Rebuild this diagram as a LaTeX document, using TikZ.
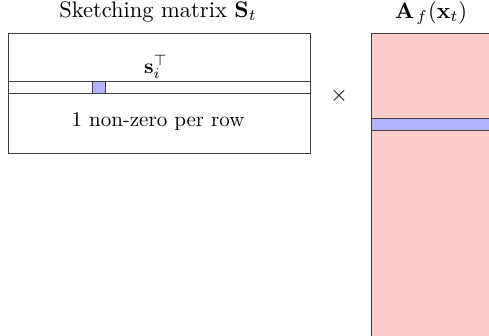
\documentclass[tikz,border=0pt]{standalone}
\usepackage{amsmath}
\begin{document}
\begin{tikzpicture}[x=1pt,y=-1pt,
  box/.style={draw=black!75, line width=1pt, inner sep=0pt, outer sep=0pt, anchor=north west},
  lbl/.style={inner sep=0pt, scale=2.1, font=\normalsize},
  ttl/.style={inner sep=0pt, scale=2.25, font=\normalsize}]
\useasboundingbox (0,0) rectangle (489,335);
\clip (0,0) rectangle (489,335);
% sketching matrix
\node[box, minimum width=302pt, minimum height=120pt] (S) at (8,33) {};
\node[box, minimum width=302pt, minimum height=12pt] (row) at (8,81) {};
\node[box, fill=blue!30, minimum width=13pt, minimum height=12pt] (nz) at (92,81) {};
\node[ttl] (Stitle) at (158,12) {Sketching matrix $\mathbf{S}_t$};
\node[lbl] (si) at (156,67) {$\mathbf{s}_i^{\top}$};
\node[lbl] (nzt) at (158,122) {1 non-zero per row};
% times
\node[ttl] (times) at (339,96) {$\times$};
% A matrix
\node[box, fill=red!20, minimum width=160pt, minimum height=340pt] (A) at (371,33) {};
\node[box, fill=blue!30, minimum width=160pt, minimum height=12pt] (Arow) at (371,118) {};
\node[ttl] (Atitle) at (431,13) {$\mathbf{A}_{\mkern2mu f}(\mathbf{x}_t)$};
\end{tikzpicture}
\end{document}
